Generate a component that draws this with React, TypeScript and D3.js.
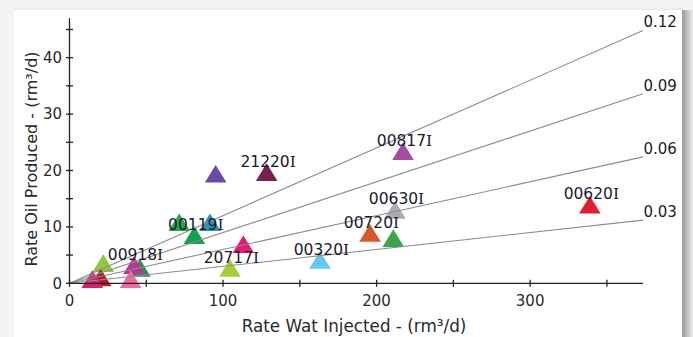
import React from "react";
import * as d3 from "d3";

const W = 693;
const H = 337;

// Well data
const wellNames = ["", "21220I", "00817I", "", "", "00119I", "", "20717I", "00320I", "00720I", "", "00630I", "00620I", "", "", "", "", "00918I", ""];
const waterInjected = [95.2, 128.4, 217.2, 71.5, 91.5, 81.3, 113.2, 104.5, 163.1, 195.7, 210.9, 212.0, 338.9, 22.0, 20.3, 14.8, 45.9, 42.0, 39.8];
const oilProduced = [19.4, 19.7, 23.4, 10.8, 10.8, 8.5, 6.9, 2.7, 4.1, 8.9, 8.0, 13.0, 13.9, 3.55, 1.0, 0.7, 2.7, 3.2, 0.7];
const wellColors = ["#6a4aa8", "#7d1f4e", "#a24da3", "#22a84a", "#2b93b4", "#12a150", "#e8197b", "#a6cf34", "#62c8f2", "#d5572a", "#3fa447", "#a9adb1", "#e31d2b", "#8cc840", "#b3182f", "#d91b6b", "#2f8f58", "#b2399c", "#f06aa0"];

// Ratio reference lines
const ratios = [0.12, 0.09, 0.06, 0.03];
const ratioLabels = ["0.12", "0.09", "0.06", "0.03"];

// Axes
const xTicks = [0, 50, 100, 150, 200, 250, 300, 350];
const xTickLabels = [0, 100, 200, 300];
const yTicks = [0, 5, 10, 15, 20, 25, 30, 35, 40, 45];
const yTickLabels = [0, 10, 20, 30, 40];
const xTitle = "Rate Wat Injected - (rm³/d)";
const yTitle = "Rate Oil Produced - (rm³/d)";

const FONT = "'DejaVu Sans', sans-serif";
const SERIF = "'DejaVu Serif', serif";

export default function App() {
  const x = d3.scaleLinear().domain([0, 373.5]).range([69.5, 643]);
  const y = d3.scaleLinear().domain([0, 47]).range([283.3, 18.2]);
  const x0 = x(0);
  const y0 = y(0);

  const tri = (cx: number, cy: number) => {
    const p = d3.path();
    p.moveTo(cx, cy - 9);
    p.lineTo(cx + 10.8, cy + 8.7);
    p.lineTo(cx - 10.8, cy + 8.7);
    p.closePath();
    return p.toString();
  };

  const xMax = x.domain()[1];

  return (
    <svg width={W} height={H} style={{ position: "absolute", left: 0, top: 0 }}>
      <defs>
        <linearGradient id="shadowR" x1="0" x2="1" y1="0" y2="0">
          <stop offset="0" stopColor="#9a9a9a" />
          <stop offset="1" stopColor="#ececec" />
        </linearGradient>
        <linearGradient id="shadowT" x1="0" x2="0" y1="0" y2="1">
          <stop offset="0" stopColor="#f6f6f6" />
          <stop offset="1" stopColor="#e6e6e6" />
        </linearGradient>
      </defs>
      <rect x={0} y={0} width={W} height={H} fill="#f4f4f4" />
      <rect x={14} y={7} width={668} height={3} fill="url(#shadowT)" />
      <rect x={682} y={10} width={11} height={H - 10} fill="url(#shadowR)" />
      <rect x={14} y={10} width={668} height={H - 10} fill="#ffffff" />

      {/* Triangles */}
      {waterInjected.map((wx, i) => (
        <path key={"t" + i} d={tri(x(wx), y(oilProduced[i]))} fill={wellColors[i]} />
      ))}

      {/* Ratio lines */}
      {ratios.map((r, i) => (
        <g key={"r" + i}>
          <line x1={x0} y1={y0} x2={x(xMax)} y2={y(r * xMax)} stroke="#8c8c8c" strokeWidth={1.1} />
          <text x={x(xMax) + 0.5} y={y(r * xMax) - 3} fontFamily={FONT} fontSize={15} fill="#1a1a2a">
            {ratioLabels[i]}
          </text>
        </g>
      ))}

      {/* Axes */}
      <line x1={x0} y1={y0} x2={x(xMax)} y2={y0} stroke="#222" strokeWidth={1.3} />
      <line x1={x0} y1={y0} x2={x0} y2={y(47)} stroke="#222" strokeWidth={1.3} />
      {xTicks.map((t) => (
        <line key={"xt" + t} x1={x(t)} x2={x(t)} y1={y0 - 3.5} y2={y0 + 3.5} stroke="#222" strokeWidth={1.3} />
      ))}
      {yTicks.map((t) => (
        <line key={"yt" + t} x1={x0 - 3.5} x2={x0 + 3.5} y1={y(t)} y2={y(t)} stroke="#222" strokeWidth={1.3} />
      ))}
      {xTickLabels.map((t) => (
        <text key={"xl" + t} x={x(t)} y={306} textAnchor="middle" fontFamily={FONT} fontSize={15} fill="#2a2a2a">
          {t}
        </text>
      ))}
      {yTickLabels.map((t) => (
        <text key={"yl" + t} x={62} y={y(t)} dy="0.36em" textAnchor="end" fontFamily={FONT} fontSize={15} fill="#2a2a2a">
          {t}
        </text>
      ))}
      <text x={354} y={332} textAnchor="middle" fontFamily={FONT} fontSize={16.8} fill="#2a2a2a">
        {xTitle}
      </text>
      <text
        transform={`translate(37,159) rotate(-90)`}
        textAnchor="middle"
        fontFamily={FONT}
        fontSize={16}
        fill="#2a2a2a"
      >
        {yTitle}
      </text>

      {/* Labels */}
      {wellNames.map((n, i) =>
        n ? (
          <text
            key={"l" + i}
            x={x(waterInjected[i]) + 1.5}
            y={y(oilProduced[i]) - 5.5}
            textAnchor="middle"
            fontFamily={FONT}
            fontSize={15.5}
            fill="#1a1a2e"
          >
            {n.slice(0, -1)}
            <tspan fontFamily={SERIF}>{n.slice(-1)}</tspan>
          </text>
        ) : null
      )}
    </svg>
  );
}
